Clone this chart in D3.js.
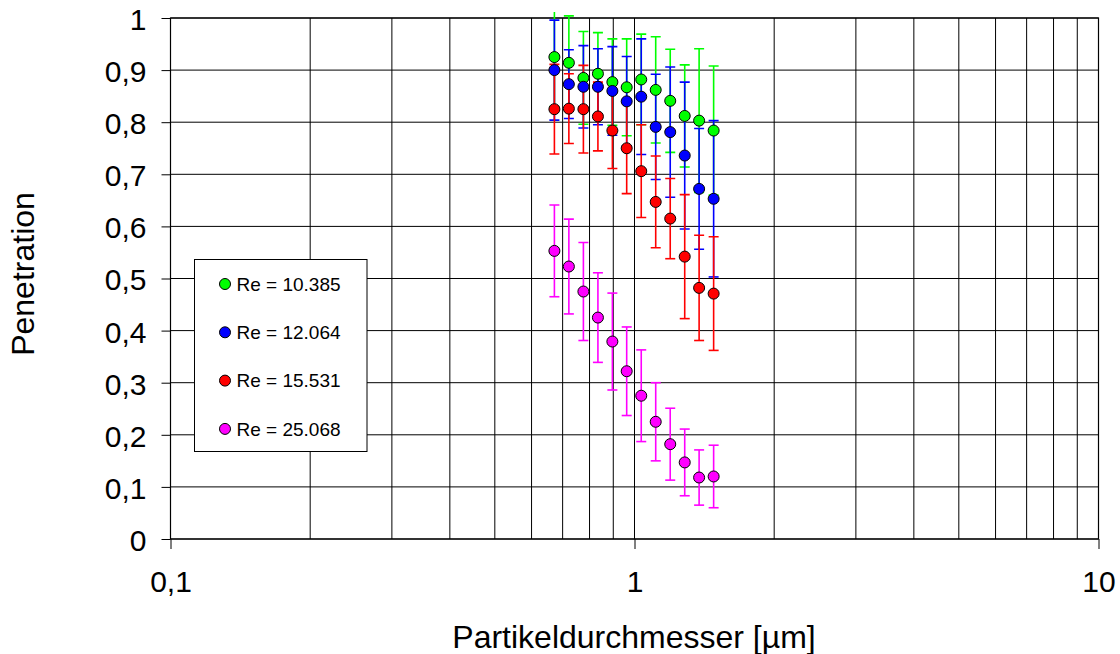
<!DOCTYPE html>
<html>
<head>
<meta charset="utf-8">
<script src="https://cdn.jsdelivr.net/npm/d3@7"></script>
<style>
  body { margin: 0; background: #fff; }
  text { font-family: "Liberation Sans", Arial, sans-serif; fill: #000; }
</style>
</head>
<body>
<svg class="chart" width="1120" height="654"></svg>
<script>
// particle diameters [µm]
var diameters = [0.672, 0.722, 0.776, 0.834, 0.896, 0.962, 1.034, 1.111, 1.194, 1.283, 1.378, 1.481];

var seriesNames = ["Re = 10.385", "Re = 12.064", "Re = 15.531", "Re = 25.068"];
var seriesColors = ["#00ff00", "#0000ff", "#ff0000", "#ff00ff"];

var pen10385 = [0.925, 0.914, 0.885, 0.893, 0.877, 0.867, 0.882, 0.862, 0.841, 0.812, 0.803, 0.784];
var err10385 = [0.095, 0.090, 0.089, 0.079, 0.083, 0.093, 0.087, 0.102, 0.099, 0.098, 0.138, 0.124];

var pen12064 = [0.900, 0.873, 0.868, 0.868, 0.860, 0.840, 0.849, 0.791, 0.781, 0.736, 0.672, 0.653];
var err12064 = [0.096, 0.066, 0.079, 0.073, 0.085, 0.086, 0.111, 0.101, 0.125, 0.141, 0.116, 0.150];

var pen15531 = [0.825, 0.826, 0.825, 0.811, 0.784, 0.750, 0.706, 0.647, 0.615, 0.542, 0.482, 0.471];
var err15531 = [0.086, 0.067, 0.084, 0.066, 0.073, 0.087, 0.089, 0.088, 0.077, 0.119, 0.101, 0.109];

var pen25068 = [0.553, 0.523, 0.475, 0.425, 0.379, 0.322, 0.275, 0.225, 0.182, 0.147, 0.118, 0.120];
var err25068 = [0.088, 0.091, 0.094, 0.086, 0.093, 0.085, 0.088, 0.075, 0.069, 0.064, 0.053, 0.060];

var xTicks = [0.1, 1, 10];
var xTickLabels = ["0,1", "1", "10"];
var xGrid = [0.2, 0.3, 0.4, 0.5, 0.6, 0.7, 0.8, 0.9, 2, 3, 4, 5, 6, 7, 8, 9];
var yTicks = [0, 0.1, 0.2, 0.3, 0.4, 0.5, 0.6, 0.7, 0.8, 0.9, 1];
var yTickLabels = ["0", "0,1", "0,2", "0,3", "0,4", "0,5", "0,6", "0,7", "0,8", "0,9", "1"];

var pens = [pen10385, pen12064, pen15531, pen25068];
var errs = [err10385, err12064, err15531, err25068];

var margin = {top: 18, right: 21.5, bottom: 115, left: 170.5};
var width = 1120 - margin.left - margin.right;
var height = 654 - margin.top - margin.bottom;

var svg = d3.select(".chart");
var chart = svg.append("g")
    .attr("transform", "translate(" + margin.left + "," + margin.top + ")");

var x = d3.scaleLog().domain([0.1, 10]).range([0, width]);
var y = d3.scaleLinear().domain([0, 1]).range([height, 0]);

// grid
chart.selectAll(".vgrid")
    .data(xGrid.concat([1]))
  .enter().append("line")
    .attr("x1", function(d) { return x(d); })
    .attr("x2", function(d) { return x(d); })
    .attr("y1", 0)
    .attr("y2", height)
    .attr("stroke", "#000")
    .attr("stroke-width", 1);

chart.selectAll(".hgrid")
    .data(yTicks)
  .enter().append("line")
    .attr("x1", 0)
    .attr("x2", width)
    .attr("y1", function(d) { return y(d); })
    .attr("y2", function(d) { return y(d); })
    .attr("stroke", "#000")
    .attr("stroke-width", 1);

chart.append("rect")
    .attr("width", width)
    .attr("height", height)
    .attr("fill", "none")
    .attr("stroke", "#000")
    .attr("stroke-width", 1.2);

// axes
var xAxis = d3.axisBottom(x)
    .tickValues(xTicks)
    .tickFormat(function(d, i) { return xTickLabels[i]; })
    .tickSize(10)
    .tickPadding(22);

var yAxis = d3.axisLeft(y)
    .tickValues(yTicks)
    .tickFormat(function(d, i) { return yTickLabels[i]; })
    .tickSize(9)
    .tickPadding(15);

var gx = chart.append("g")
    .attr("transform", "translate(0," + height + ")")
    .call(xAxis);
var gy = chart.append("g").call(yAxis);

[gx, gy].forEach(function(g) {
  g.select(".domain").remove();
  g.selectAll(".tick line").attr("stroke", "#000");
  g.selectAll(".tick text")
      .style("font-size", "30px")
      .style("font-family", "'Liberation Sans', Arial, sans-serif")
      .attr("fill", "#000");
});
gy.selectAll(".tick text").attr("dy", "0.38em");

// axis titles
svg.append("text")
    .attr("x", 634)
    .attr("y", 648)
    .attr("text-anchor", "middle")
    .style("font-size", "32px")
    .text("Partikeldurchmesser [µm]");

svg.append("text")
    .attr("transform", "translate(34," + 274 + ") rotate(-90)")
    .attr("text-anchor", "middle")
    .style("font-size", "32px")
    .text("Penetration");

// data, clipped to chart area
svg.append("clipPath").attr("id", "clip")
  .append("rect")
    .attr("x", 0).attr("y", -6)
    .attr("width", width).attr("height", height + 6);

var dataG = chart.append("g").attr("clip-path", "url(#clip)");

var capW = 5;
pens.forEach(function(pen, s) {
  var g = dataG.append("g")
      .attr("stroke", seriesColors[s])
      .attr("stroke-width", 1.6);
  pen.forEach(function(v, i) {
    var cx = x(diameters[i]);
    var lo = y(v - errs[s][i]);
    var hi = y(v + errs[s][i]);
    g.append("line").attr("x1", cx).attr("x2", cx).attr("y1", lo).attr("y2", hi);
    g.append("line").attr("x1", cx - capW).attr("x2", cx + capW).attr("y1", lo).attr("y2", lo);
    g.append("line").attr("x1", cx - capW).attr("x2", cx + capW).attr("y1", hi).attr("y2", hi);
  });
});

pens.forEach(function(pen, s) {
  dataG.selectAll(".pt" + s)
      .data(pen)
    .enter().append("circle")
      .attr("class", "pt" + s)
      .attr("cx", function(d, i) { return x(diameters[i]); })
      .attr("cy", function(d) { return y(d); })
      .attr("r", 5.5)
      .attr("fill", seriesColors[s])
      .attr("stroke", "#000")
      .attr("stroke-width", 1);
});

// legend
var legend = svg.append("g").attr("transform", "translate(194.5,259.5)");
legend.append("rect")
    .attr("width", 172.5)
    .attr("height", 192)
    .attr("fill", "#fff")
    .attr("stroke", "#000")
    .attr("stroke-width", 1);

var entries = legend.selectAll(".entry")
    .data(seriesNames)
  .enter().append("g")
    .attr("transform", function(d, i) { return "translate(0," + (24.5 + i * 48.3) + ")"; });

entries.append("circle")
    .attr("cx", 30.5)
    .attr("r", 5.5)
    .attr("fill", function(d, i) { return seriesColors[i]; })
    .attr("stroke", "#000")
    .attr("stroke-width", 1);

entries.append("text")
    .attr("x", 42)
    .attr("dy", "0.36em")
    .style("font-size", "19px")
    .text(function(d) { return d; });
</script>
</body>
</html>
